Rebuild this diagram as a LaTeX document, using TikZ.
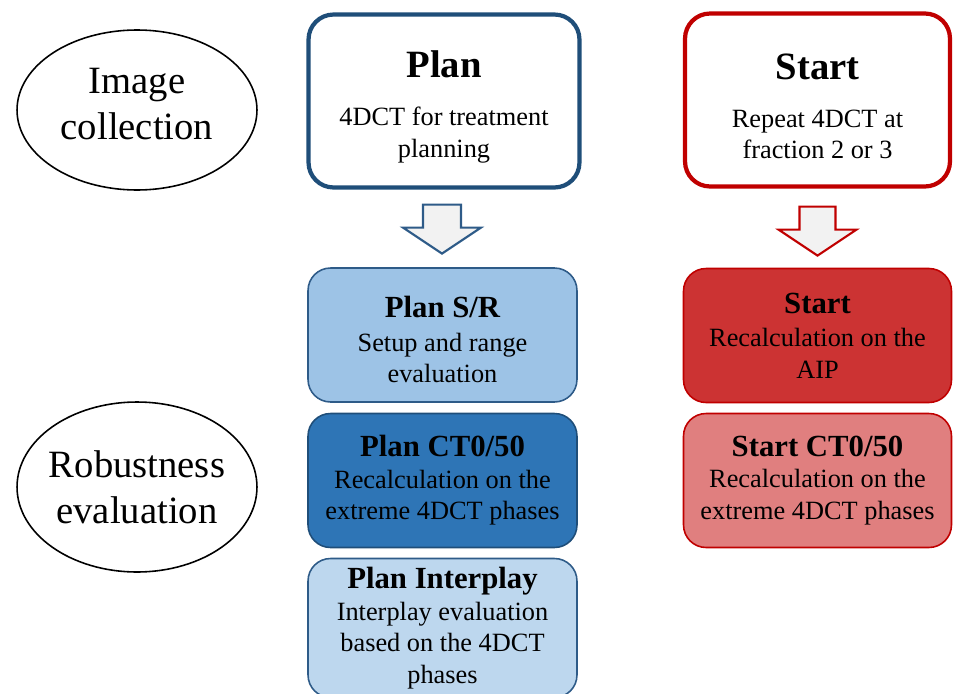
\documentclass[tikz,border=0pt]{standalone}
\usepackage{fontspec}
\setmainfont{Liberation Serif}
\usepackage{tikz}
\usetikzlibrary{shapes,arrows}

\definecolor{plandark}{HTML}{1F4E79}
\definecolor{planedge}{HTML}{2E5B88}
\definecolor{srfill}{HTML}{9DC3E6}
\definecolor{ctfill}{HTML}{2E75B6}
\definecolor{interfill}{HTML}{BDD7EE}
\definecolor{startred}{HTML}{C00000}
\definecolor{aipfill}{HTML}{CC3333}
\definecolor{startctfill}{HTML}{E07F7F}
\definecolor{arrowgrey}{HTML}{F2F2F2}

\newcommand{\bigtitle}[1]{{\fontsize{22}{26}\selectfont\bfseries\rule{0pt}{22pt}#1}}
\newcommand{\boxtitle}[1]{{\fontsize{17.5}{20}\selectfont\bfseries #1}}

\begin{document}
\begin{tikzpicture}
		[
		x = 0.02cm, y = -0.02cm,
		stage/.style = {ellipse, draw, line width=0.9pt, inner sep=-10pt, minimum width=4.8cm, align=center, font=\fontsize{22}{26}\selectfont},
		topbox/.style = {draw, fill=white, rounded corners=0.5cm, line width=2.4pt, minimum height=3.46cm, align=center, font=\fontsize{15}{18}\selectfont},
		evalbox/.style = {draw, rounded corners=0.45cm, line width=0.9pt, minimum width=5.38cm, minimum height=2.68cm, align=center, font=\fontsize{15}{18}\selectfont},
		downarrow/.style = {fill=arrowgrey, line width=1.2pt, line join=miter},
		]
		
		\useasboundingbox (0,0) rectangle (953,693);
		
		% left column
		\node[stage, minimum height=3.2cm] (collect) at (137,110) {Image\\collection\\[-19pt]};
		\node[stage, minimum height=3.4cm] (robust) at (137,487) {Robustness\\evaluation};
		
		% image collection
		\node[topbox, draw=plandark, minimum width=5.42cm] (plan) at (444,101)
		{\bigtitle{Plan}\\[9pt]4DCT for treatment\\planning};
		\node[topbox, draw=startred, minimum width=5.3cm] (start) at (817.5,100)
		{\bigtitle{Start}\\[9pt]Repeat 4DCT at\\fraction 2 or 3};
		
		% block arrows
		\draw[downarrow, draw=planedge] (plan.south) ++(-21,15) -- ++(38,0) -- ++(0,23)
		-- ++(20,0) -- ++(-39,26) -- ++(-39,-26) -- ++(20,0) -- cycle;
		\draw[downarrow, draw=startred] (start.south) ++(-18,18) -- ++(36,0) -- ++(0,23)
		-- ++(21,0) -- ++(-39,26) -- ++(-39,-26) -- ++(21,0) -- cycle;
		
		% robustness evaluation
		\node[evalbox, draw=planedge, fill=srfill] (plansr) at (442.5,335)
		{\boxtitle{\rule{0pt}{17.5pt}Plan S/R}\\[1pt]Setup and range\\evaluation};
		\node[evalbox, draw=plandark, fill=ctfill] (planct) at (442.5,480.5)
		{\boxtitle{Plan CT0/50}\\Recalculation on the\\extreme 4DCT phases};
		\node[evalbox, draw=planedge, fill=interfill, minimum height=2.78cm] (planinter) at (442.5,628)
		{\boxtitle{Plan Interplay}\\Interplay evaluation\\based on the 4DCT\\phases};
		
		\node[evalbox, draw=startred, fill=aipfill, minimum width=5.36cm] (startaip) at (817.5,335.5)
		{\boxtitle{Start}\\[1pt]Recalculation on the\\AIP};
		\node[evalbox, draw=startred, fill=startctfill, minimum width=5.36cm] (startct) at (817.5,480.5)
		{\boxtitle{Start CT0/50}\\Recalculation on the\\extreme 4DCT phases};
		
\end{tikzpicture}
\end{document}
